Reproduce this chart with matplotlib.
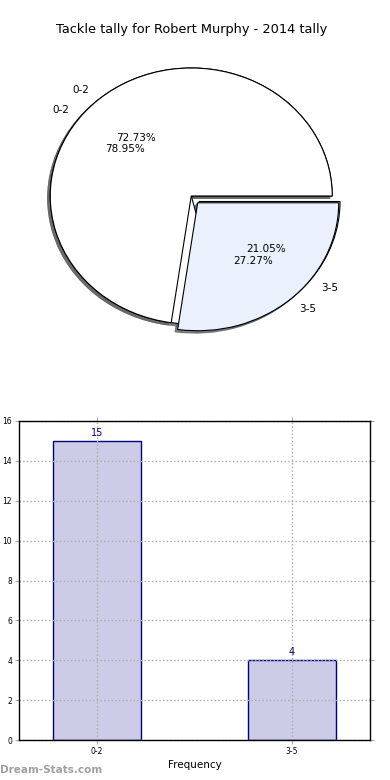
import matplotlib
matplotlib.use("Agg")
import matplotlib.pyplot as plt

# ── dados ────────────────────────────────────────────────────────────────
categorias = ["0-2", "3-5"]
tally_a = [15, 4]        # 78.95% / 21.05%
tally_b = [8, 3]         # 72.73% / 27.27%
barras = [15, 4]
yticks = [0, 2, 4, 6, 8, 10, 12, 14, 16]

COR_BRANCO = "#ffffff"
COR_AZUL = "#eaf1fd"
COR_BARRA = "#ccccE6"
COR_NAVY = "#000080"

fig = plt.figure(figsize=(3.9, 7.8), dpi=100, facecolor="white")

# ── pizza ────────────────────────────────────────────────────────────────
ax1 = fig.add_axes([15 / 390, 1 - 356 / 780, 352.5 / 390, 320 / 780])
for dados in (tally_a, tally_b):
    ax1.pie(dados, labels=categorias, autopct="%.2f%%", explode=[0, 0.07],
            colors=[COR_BRANCO, COR_AZUL],
            shadow=dict(ox=-0.013, oy=-0.013, shade=0.6, alpha=0.8),
            wedgeprops=dict(edgecolor="black", linewidth=0.8),
            textprops=dict(fontsize=7.5))
ax1.set_aspect("auto")
ax1.set_xlim(-1.25, 1.25)
ax1.set_ylim(-1.25, 1.25)
ax1.set_title("Tackle tally for Robert Murphy - 2014 tally", fontsize=9.3, pad=0)

# ── barras ───────────────────────────────────────────────────────────────
ax2 = fig.add_axes([19 / 390, 1 - 740 / 780, 351 / 390, 319 / 780])
x = list(range(len(categorias)))
rects = ax2.bar(x, barras, width=0.45, color=COR_BARRA, edgecolor=COR_NAVY,
                linewidth=1, zorder=2)
for r, v in zip(rects, barras):
    ax2.text(r.get_x() + r.get_width() / 2, v + 0.15, str(v), ha="center",
             va="bottom", color=COR_NAVY, fontsize=7)
ax2.set_xlim(-0.4, 1.4)
ax2.set_ylim(0, 16)
ax2.set_xticks(x)
ax2.set_xticklabels(categorias)
ax2.set_yticks(yticks)
ax2.grid(True, linestyle=":", color="#aaaaaa", linewidth=1, zorder=3)
ax2.set_axisbelow(False)
ax2.tick_params(direction="out", length=3, color="#aaaaaa", labelsize=5.5,
                top=True, right=True, pad=2)
for s in ax2.spines.values():
    s.set_linewidth(1)
    s.set_zorder(5)
ax2.set_xlabel("Frequency", fontsize=7.5, labelpad=3)
ax2.set_ylabel("Occurrences", fontsize=7)
ax2.yaxis.set_label_coords(-0.057, 0.5)

fig.text(0.0, 1 - 770 / 780, "Dream-Stats.com", ha="left", va="center",
         fontsize=7.5, fontweight="bold", color="#a0a0a0")

fig.savefig("out.png", dpi=100, facecolor="white")
